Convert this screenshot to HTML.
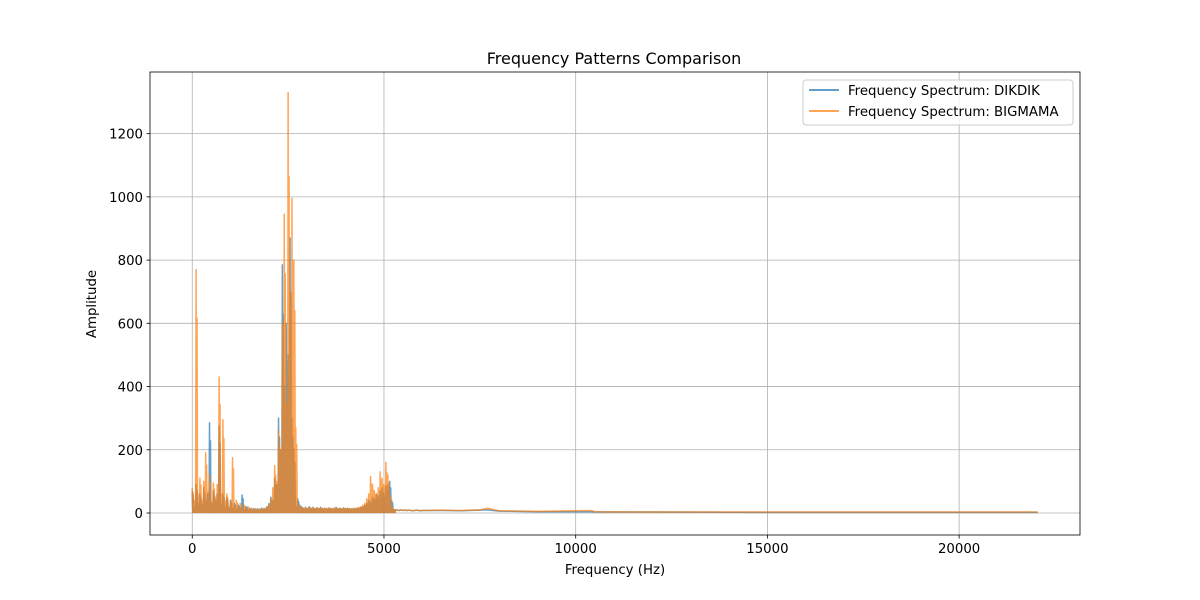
<!DOCTYPE html>
<html><head><meta charset="utf-8"><style>
body{margin:0;background:#fff;}
svg{display:block;font-family:"DejaVu Sans","Liberation Sans",sans-serif;}
</style></head><body>
<svg id="chart" width="1200" height="600">
<rect width="1200" height="600" fill="#fff"/>
<g id="grid"></g>
<g id="series"></g>
<rect x="150" y="72" width="930" height="463" fill="none" stroke="#000" stroke-width="0.8"/>
<g id="axes"></g>
<text x="614" y="64" font-size="16" text-anchor="middle">Frequency Patterns Comparison</text>
<text x="615" y="574" font-size="13.3" text-anchor="middle">Frequency (Hz)</text>
<text x="96" y="304" font-size="13.3" text-anchor="middle" transform="rotate(-90 96 304)">Amplitude</text>
<g>
<rect x="803" y="80" width="270" height="45" rx="3" fill="#fff" fill-opacity="0.8" stroke="#ccc"/>
<line x1="809" y1="90" x2="839" y2="90" stroke="#1f77b4" stroke-opacity="0.7" stroke-width="2"/>
<text x="848" y="95" font-size="13.3">Frequency Spectrum: DIKDIK</text>
<line x1="809" y1="111" x2="839" y2="111" stroke="#ff7f0e" stroke-opacity="0.7" stroke-width="2"/>
<text x="848" y="116" font-size="13.3">Frequency Spectrum: BIGMAMA</text>
</g>
</svg>
<script>
const denseStepHz = 50;
const tailFreqs = [6500,7000,7500,7700,8000,9000,10000,10400,10500,12000,15000,20000,22050];
const dikdikDense = [70,20,90,30,60,25,80,40,60,285,30,70,40,60,275,30,60,20,50,15,
40,15,30,12,25,15,57,10,20,10,15,10,14,10,13,10,15,12,15,20,
30,50,40,110,90,300,200,785,400,600,500,870,300,200,20,45,25,20,15,18,
15,20,15,18,14,16,15,18,14,15,14,16,15,14,15,18,14,15,14,16,
14,15,14,13,15,14,16,15,18,20,25,30,40,35,50,45,60,55,70,80,
60,85,90,100,40,12,10,9,8,10,8,9,8,9,8,7,8,9,8,7,8];
const dikdikTail = [8,7,9,10,6,4,4,4,3,3,2,2,2];
const bigmamaDense = [80,40,770,60,110,40,100,190,70,120,35,95,50,90,430,60,295,40,60,20,
35,175,20,40,15,30,10,25,12,20,10,15,10,14,10,13,12,15,12,20,
25,45,80,150,100,260,200,600,945,350,1330,700,995,800,270,30,20,18,15,16,
15,18,15,16,14,17,15,16,14,15,14,15,15,14,15,16,14,15,14,15,
14,15,14,13,15,14,16,18,20,25,30,45,60,115,90,70,60,80,130,110,
90,160,120,60,20,12,10,9,8,10,8,9,8,9,8,7,8,9,8,7,8];
const bigmamaTail = [9,8,10,15,7,5,7,8,4,3,3,3,3];
const xTicks = [0,5000,10000,15000,20000];
const yTicks = [0,200,400,600,800,1000,1200];

const X0=150,X1=1080,Y0=535,Y1=72;
const xMin=-1102,xMax=23152,yMin=-69.6,yMax=1395;
const xs=v=>X0+(v-xMin)/(xMax-xMin)*(X1-X0);
const ys=v=>Y0-(v-yMin)/(yMax-yMin)*(Y0-Y1);
const NS='http://www.w3.org/2000/svg';
const grid=document.getElementById('grid'),axes=document.getElementById('axes'),series=document.getElementById('series');
function mk(tag,attrs,parent){const e=document.createElementNS(NS,tag);for(const k in attrs)e.setAttribute(k,attrs[k]);parent.appendChild(e);return e;}
xTicks.forEach(t=>{const x=xs(t);
 const g=mk('line',{x1:x,x2:x,y1:Y1,y2:Y0,stroke:'#b0b0b0','stroke-width':0.8},grid);
 
 
 const tk=mk('line',{x1:x,x2:x,y1:Y0,y2:Y0+3.5,stroke:'#000','stroke-width':0.8},axes);
 
 
 const tx=mk('text',{x:x,y:Y0+18,'font-size':13.3,'text-anchor':'middle'},axes);tx.textContent=t;
 
 
});
yTicks.forEach(t=>{const y=ys(t);
 const g=mk('line',{x1:X0,x2:X1,y1:y,y2:y,stroke:'#b0b0b0','stroke-width':0.8},grid);
 
 
 const tk=mk('line',{x1:X0-3.5,x2:X0,y1:y,y2:y,stroke:'#000','stroke-width':0.8},axes);
 
 
 const tx=mk('text',{x:X0-7,y:y+5,'font-size':13.3,'text-anchor':'end'},axes);tx.textContent=t;
 
 
});
// dense spectrum oscillates rapidly down to the noise floor between samples
const denseOscUntilHz = 5300;
function draw(dense,tail,color,name){
 const pts=[];
 dense.forEach((v,i)=>{
   const f=i*denseStepHz;
   pts.push(xs(f).toFixed(2)+','+ys(v).toFixed(2));
   if(f<denseOscUntilHz && i<dense.length-1){
     pts.push(xs(f+denseStepHz*0.25).toFixed(2)+','+ys(2).toFixed(2));
     pts.push(xs(f+denseStepHz*0.5).toFixed(2)+','+ys(v*0.8).toFixed(2));
     pts.push(xs(f+denseStepHz*0.75).toFixed(2)+','+ys(2).toFixed(2));
   }
 });
 tail.forEach((v,i)=>pts.push(xs(tailFreqs[i]).toFixed(2)+','+ys(v).toFixed(2)));
 const p=mk('polyline',{points:pts.join(' '),fill:'none',stroke:color,'stroke-opacity':0.7,'stroke-width':1.5,'stroke-linejoin':'round'},series);
 
 
}
draw(dikdikDense,dikdikTail,'#1f77b4','dikdik-spectrum-line');
draw(bigmamaDense,bigmamaTail,'#ff7f0e','bigmama-spectrum-line');
</script>
</body></html>
